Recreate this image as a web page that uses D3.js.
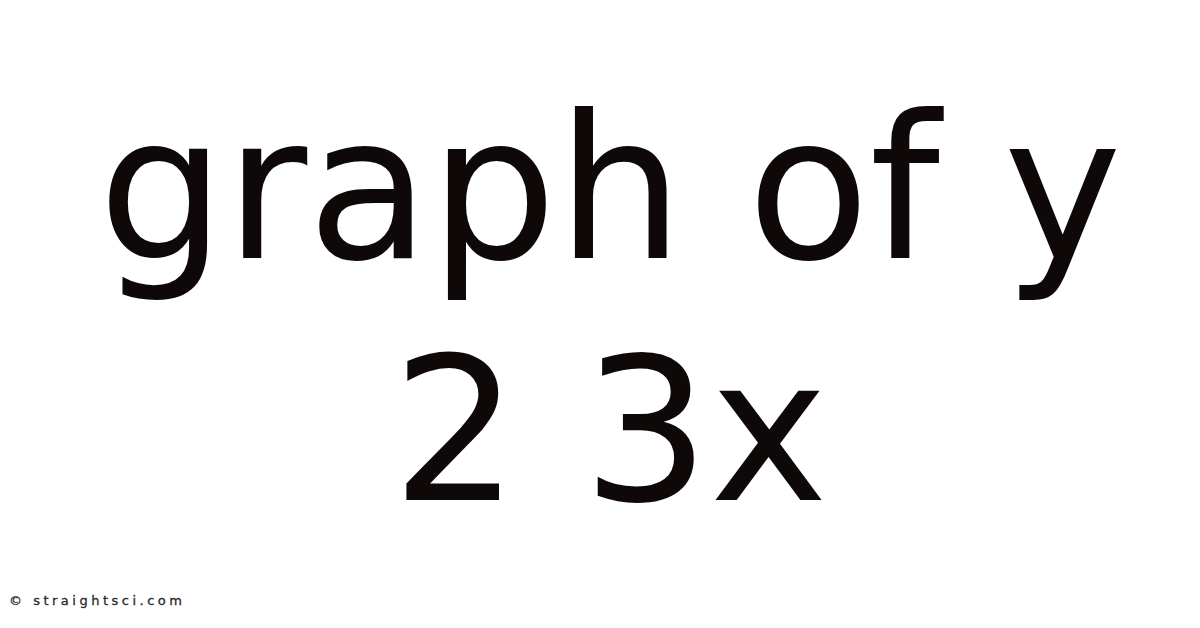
<!DOCTYPE html>
<html>
<head>
<meta charset="utf-8">
<script src="https://cdn.jsdelivr.net/npm/d3@7"></script>
<style>
  html, body { margin: 0; padding: 0; background: #fff; }
  svg { display: block; }
</style>
</head>
<body>
<div id="chart"></div>
<script>
const titleLines = ["graph of y", "2 3x"];
const watermark = "\u00a9 straightsci.com";

const width = 1200, height = 628;

const svg = d3.select("#chart")
    .append("svg")
    .attr("width", width)
    .attr("height", height);

svg.append("rect")
    .attr("width", width)
    .attr("height", height)
    .attr("fill", "#ffffff");

// baselines of the two big lines
const lineScale = d3.scaleLinear().domain([0, 1]).range([258, 500]);

svg.selectAll(".title-line")
    .data(titleLines)
    .enter()
    .append("text")
    .attr("class", "title-line")
    .attr("x", 610)
    .attr("y", (d, i) => lineScale(i))
    .attr("text-anchor", "middle")
    .attr("font-family", "DejaVu Sans, sans-serif")
    .attr("font-size", 200)
    .attr("fill", "#0e0808")
    .text((d) => d);

svg.append("text")
    .attr("x", 9)
    .attr("y", 605)
    .attr("font-family", "DejaVu Sans, sans-serif")
    .attr("font-size", 13)
    .attr("letter-spacing", 3.5)
    .attr("stroke", "#2a2a2a")
    .attr("stroke-width", 0.3)
    .attr("fill", "#2a2a2a")
    .text(watermark);
</script>
</body>
</html>
